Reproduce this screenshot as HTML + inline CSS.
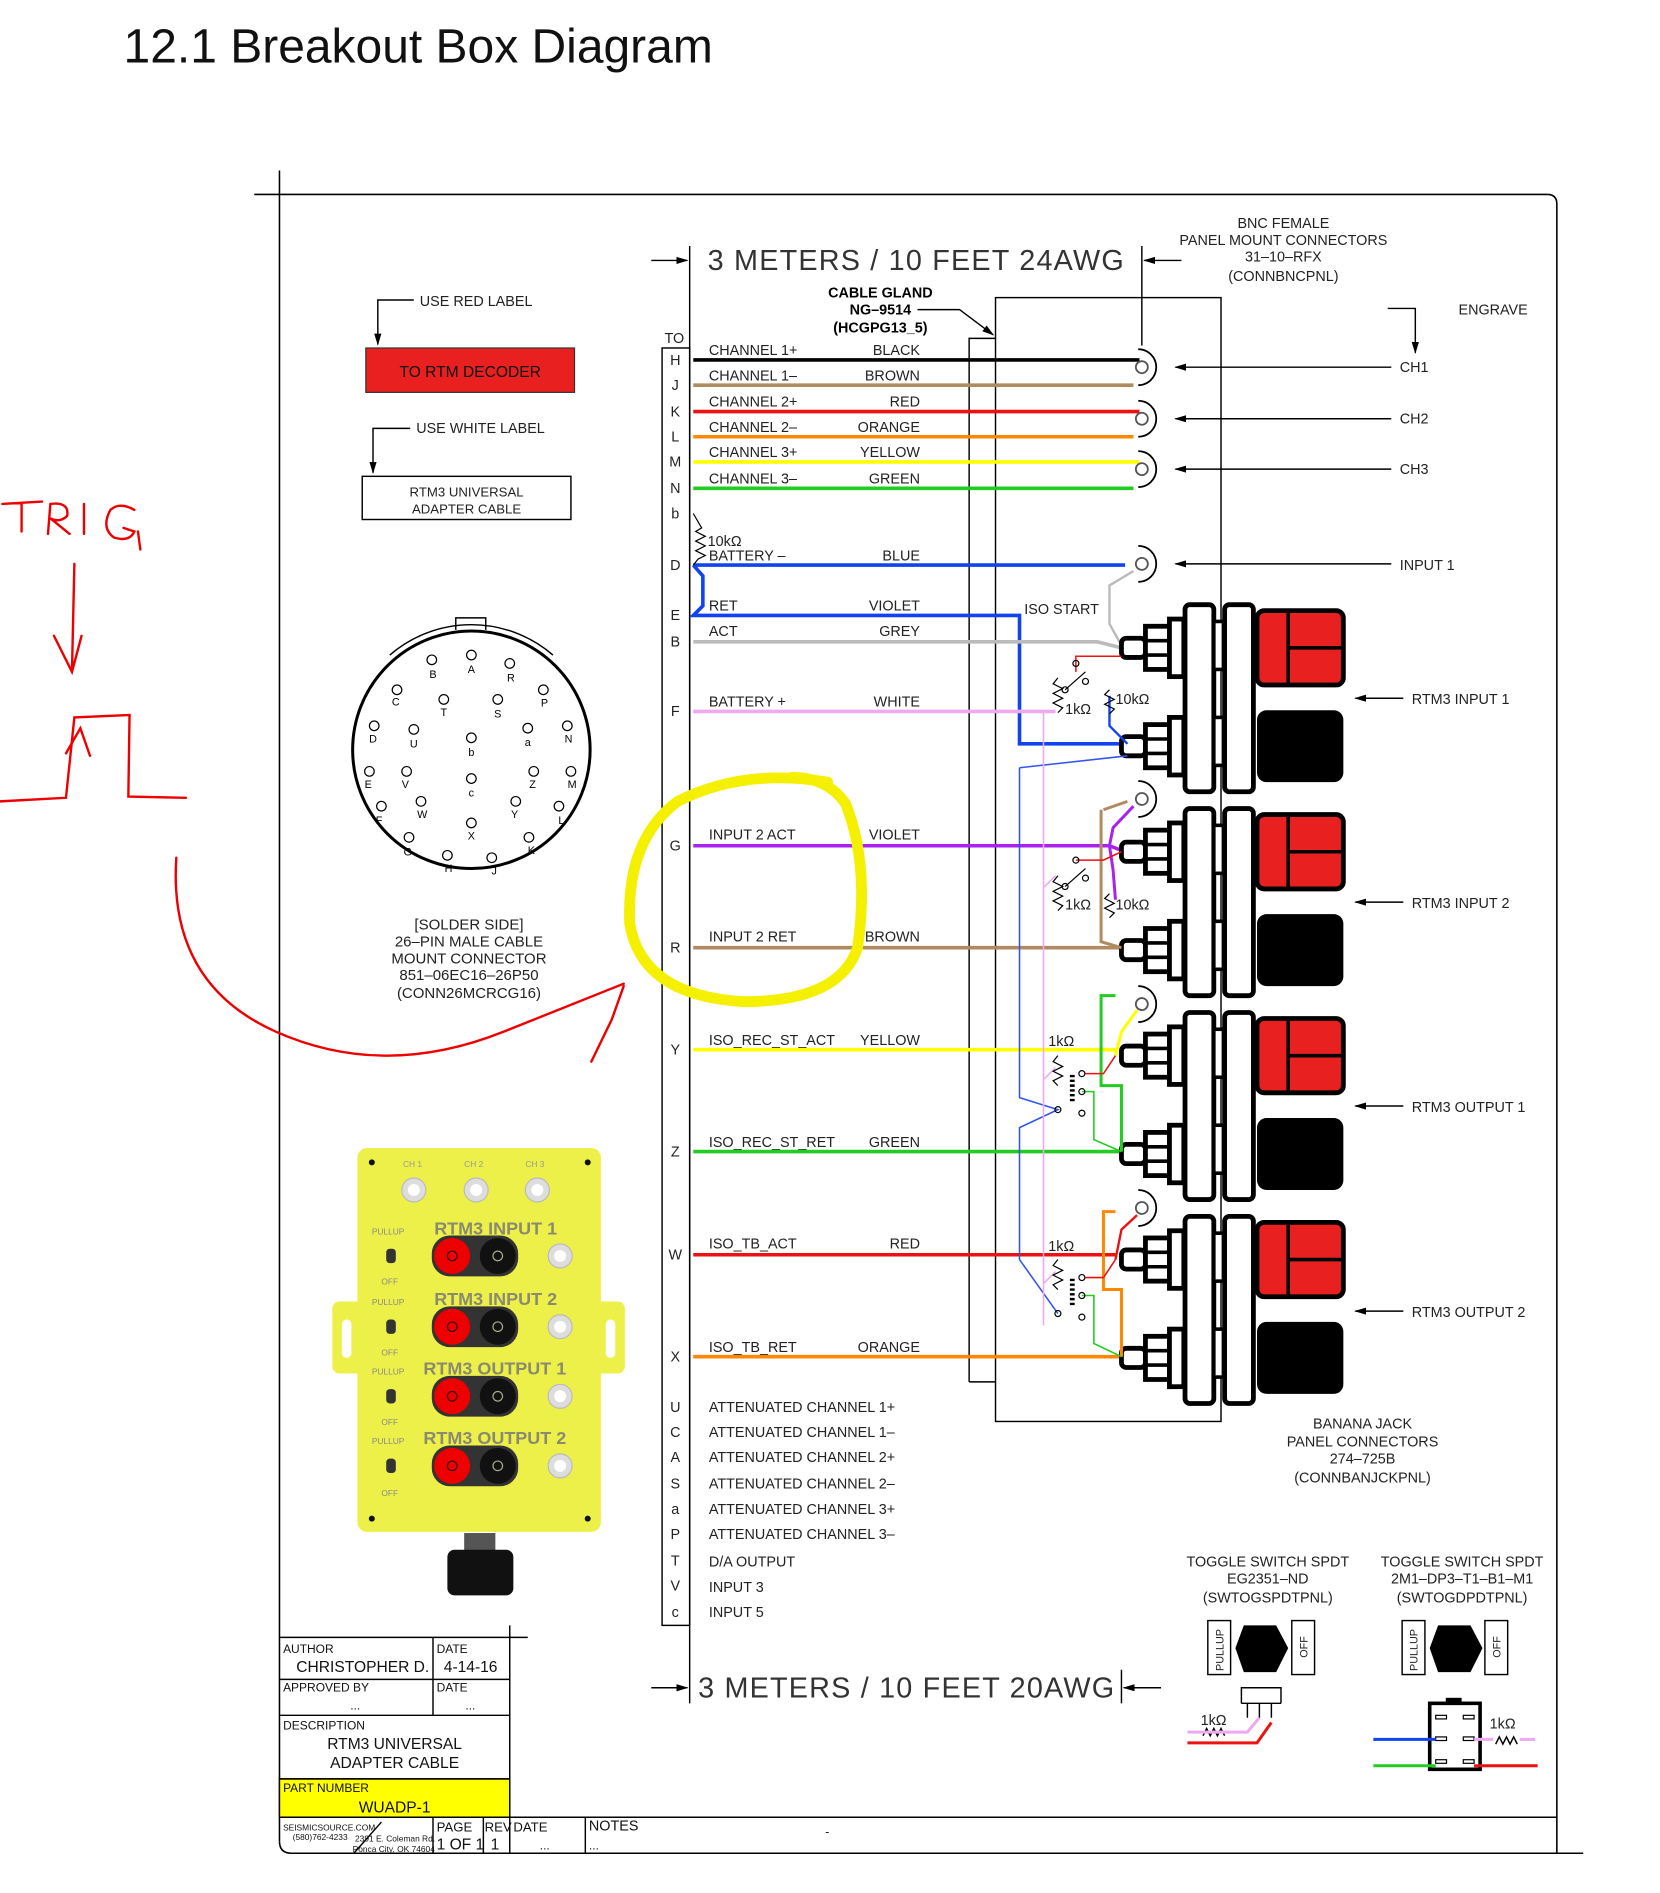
<!DOCTYPE html>
<html><head><meta charset="utf-8"><style>
html,body{margin:0;padding:0;background:#fff;}
svg{display:block;}
text{font-family:"Liberation Sans",sans-serif;}
</style></head><body>
<svg width="1660" height="1893" viewBox="0 0 1384 1578" xmlns="http://www.w3.org/2000/svg">
<defs>
<marker id="ah" markerWidth="10" markerHeight="8" refX="9" refY="4" orient="auto" markerUnits="userSpaceOnUse"><path d="M0,1 L10,4 L0,7 z" fill="#000"/></marker>
<g id="jack">
 <!-- top terminal -->
 <rect x="935" y="-50" width="20" height="16" rx="4" fill="#fff" stroke="#000" stroke-width="4"/>
 <rect x="955" y="-60" width="20" height="36" fill="#fff" stroke="#000" stroke-width="4"/>
 <line x1="955" y1="-48" x2="975" y2="-48" stroke="#000" stroke-width="3"/><line x1="955" y1="-36" x2="975" y2="-36" stroke="#000" stroke-width="3"/>
 <rect x="975" y="-66" width="12" height="48" fill="#fff" stroke="#000" stroke-width="4"/>
 <!-- bottom terminal -->
 <rect x="935" y="32" width="20" height="16" rx="4" fill="#fff" stroke="#000" stroke-width="4"/>
 <rect x="955" y="22" width="20" height="36" fill="#fff" stroke="#000" stroke-width="4"/>
 <line x1="955" y1="34" x2="975" y2="34" stroke="#000" stroke-width="3"/><line x1="955" y1="46" x2="975" y2="46" stroke="#000" stroke-width="3"/>
 <rect x="975" y="16" width="12" height="48" fill="#fff" stroke="#000" stroke-width="4"/>
 <!-- plates -->
 <rect x="988" y="-78" width="24" height="156" rx="4" fill="#fff" stroke="#000" stroke-width="4"/>
 <rect x="1012" y="-64" width="8" height="40" fill="#fff" stroke="#000" stroke-width="3"/>
 <rect x="1012" y="16" width="8" height="40" fill="#fff" stroke="#000" stroke-width="3"/>
 <rect x="1021" y="-78" width="24" height="156" rx="4" fill="#fff" stroke="#000" stroke-width="4"/>
 <!-- red cap -->
 <rect x="1048" y="-73" width="72" height="62" rx="6" fill="#e82020" stroke="#000" stroke-width="4"/>
 <line x1="1074" y1="-73" x2="1074" y2="-11" stroke="#000" stroke-width="3"/>
 <line x1="1074" y1="-42" x2="1120" y2="-42" stroke="#000" stroke-width="3"/>
 <!-- black cap -->
 <rect x="1048" y="10" width="72" height="60" rx="8" fill="#000"/>
</g>
<g id="bnc"><circle cx="0" cy="0" r="5" fill="#fff" stroke="#555" stroke-width="1.5"/><path d="M-3,-15 A15,15 0 1 1 -3,15" fill="none" stroke="#000" stroke-width="1.5"/></g>
</defs>

<text x="103" y="52" font-size="40" fill="#111">12.1 Breakout Box Diagram</text>

<!-- frame -->
<g stroke="#000" stroke-width="1.3" fill="none">
<line x1="212" y1="162" x2="1290" y2="162"/>
<path d="M1290,162 Q1298,162 1298,170 L1298,1545"/>
<line x1="233" y1="142" x2="233" y2="1535"/>
<path d="M233,1535 Q233,1545 243,1545 L1320,1545"/>
<line x1="425" y1="1515" x2="1298" y2="1515"/>
</g>

<!-- title block -->
<g stroke="#000" stroke-width="1.2" fill="none">
<rect x="233" y="1483" width="192" height="32" fill="#ffff00"/>
<line x1="233" y1="1365" x2="440" y2="1365"/>
<line x1="425" y1="1355" x2="425" y2="1545"/>
<line x1="233" y1="1400" x2="425" y2="1400"/>
<line x1="233" y1="1430" x2="425" y2="1430"/>
<line x1="233" y1="1483" x2="425" y2="1483"/>
<line x1="233" y1="1515" x2="425" y2="1515"/>
<line x1="361" y1="1365" x2="361" y2="1430"/>
<line x1="361" y1="1515" x2="361" y2="1545"/>
<line x1="403" y1="1515" x2="403" y2="1545"/>
<line x1="488" y1="1515" x2="488" y2="1545"/>
<line x1="318" y1="1519" x2="295" y2="1545"/>
</g>
<g font-size="10" fill="#111">
<text x="236" y="1378">AUTHOR</text><text x="364" y="1378">DATE</text>
<text x="247" y="1394" font-size="13">CHRISTOPHER D.</text><text x="370" y="1394" font-size="13">4-14-16</text>
<text x="236" y="1410">APPROVED BY</text><text x="364" y="1410">DATE</text>
<text x="292" y="1425">...</text><text x="388" y="1425">...</text>
<text x="236" y="1442">DESCRIPTION</text>
<text x="329" y="1458" font-size="13" text-anchor="middle">RTM3 UNIVERSAL</text>
<text x="329" y="1474" font-size="13" text-anchor="middle">ADAPTER CABLE</text>
<text x="236" y="1494">PART NUMBER</text>
<text x="329" y="1511" font-size="13" text-anchor="middle">WUADP-1</text>
<text x="236" y="1526" font-size="7">SEISMICSOURCE.COM</text>
<text x="244" y="1534" font-size="7">(580)762-4233</text>
<text x="296" y="1535" font-size="7">2391 E. Coleman Rd.</text>
<text x="294" y="1544" font-size="7">Ponca City, OK 74604</text>
<text x="364" y="1527" font-size="11">PAGE</text><text x="404" y="1527" font-size="11">REV</text><text x="428" y="1527" font-size="11">DATE</text><text x="491" y="1526" font-size="12">NOTES</text>
<text x="364" y="1542" font-size="13">1 OF 1</text><text x="409" y="1542" font-size="13">1</text><text x="450" y="1542">...</text><text x="491" y="1542">...</text>
<text x="688" y="1530">-</text>
</g>

<!-- left labels -->
<g font-size="12" fill="#222">
<text x="350" y="255">USE  RED  LABEL</text>
<text x="347" y="361">USE  WHITE  LABEL</text>
</g>
<g stroke="#000" stroke-width="1.2" fill="none">
<path d="M345,250 L315,250 L315,287" marker-end="url(#ah)"/>
<path d="M342,357 L311,357 L311,394" marker-end="url(#ah)"/>
</g>
<rect x="305" y="290" width="174" height="37" fill="#e82020" stroke="#333" stroke-width="1"/>
<text x="392" y="314" font-size="13" fill="#111" text-anchor="middle">TO  RTM  DECODER</text>
<rect x="302" y="397" width="174" height="36" fill="#fff" stroke="#000" stroke-width="1.2"/>
<text x="389" y="414" font-size="11" fill="#222" text-anchor="middle">RTM3 UNIVERSAL</text>
<text x="389" y="428" font-size="11" fill="#222" text-anchor="middle">ADAPTER CABLE</text>

<!-- circular connector -->
<g stroke="#000" fill="none">
<circle cx="393" cy="625" r="99" stroke-width="2.5"/>
<path d="M325,546 A104,104 0 0 1 461,546" stroke-width="1.2"/>
<path d="M380,525 L380,515 L405,515 L405,525" stroke-width="1.2"/>
</g>
<g font-size="9" fill="#000" text-anchor="middle">
<g fill="none" stroke="#000" stroke-width="1">
<circle cx="360" cy="550" r="4"/><circle cx="393" cy="546" r="4"/><circle cx="425" cy="553" r="4"/>
<circle cx="331" cy="575" r="4"/><circle cx="370" cy="583" r="4"/><circle cx="415" cy="583" r="4"/><circle cx="453" cy="575" r="4"/>
<circle cx="312" cy="605" r="4"/><circle cx="345" cy="608" r="4"/><circle cx="393" cy="615" r="4"/><circle cx="440" cy="607" r="4"/><circle cx="473" cy="605" r="4"/>
<circle cx="308" cy="643" r="4"/><circle cx="339" cy="643" r="4"/><circle cx="393" cy="649" r="4"/><circle cx="445" cy="643" r="4"/><circle cx="476" cy="643" r="4"/>
<circle cx="318" cy="672" r="4"/><circle cx="351" cy="668" r="4"/><circle cx="430" cy="668" r="4"/><circle cx="466" cy="672" r="4"/>
<circle cx="341" cy="698" r="4"/><circle cx="393" cy="686" r="4"/><circle cx="441" cy="698" r="4"/><circle cx="373" cy="713" r="4"/><circle cx="410" cy="715" r="4"/>
</g>
<text x="361" y="565">B</text><text x="393" y="561">A</text><text x="426" y="568">R</text>
<text x="330" y="588">C</text><text x="370" y="597">T</text><text x="415" y="598">S</text><text x="454" y="589">P</text>
<text x="311" y="619">D</text><text x="345" y="623">U</text><text x="393" y="630">b</text><text x="440" y="622">a</text><text x="474" y="619">N</text>
<text x="307" y="657">E</text><text x="338" y="657">V</text><text x="393" y="664">c</text><text x="444" y="657">Z</text><text x="477" y="657">M</text>
<text x="316" y="687">F</text><text x="352" y="682">W</text><text x="429" y="682">Y</text><text x="468" y="687">L</text>
<text x="340" y="713">G</text><text x="393" y="700">X</text><text x="443" y="712">K</text><text x="374" y="727">H</text><text x="412" y="729">J</text>
</g>
<g font-size="12.5" fill="#222" text-anchor="middle">
<text x="391" y="775">[SOLDER  SIDE]</text>
<text x="391" y="789">26–PIN  MALE  CABLE</text>
<text x="391" y="803">MOUNT  CONNECTOR</text>
<text x="391" y="817">851–06EC16–26P50</text>
<text x="391" y="832">(CONN26MCRCG16)</text>
</g>

<!-- yellow box photo -->
<rect x="277" y="1085" width="26" height="60" rx="6" fill="#eef04a"/>
<rect x="495" y="1085" width="26" height="60" rx="6" fill="#eef04a"/>
<rect x="285" y="1100" width="8" height="32" rx="4" fill="#fff"/>
<rect x="505" y="1100" width="8" height="32" rx="4" fill="#fff"/>
<rect x="298" y="957" width="203" height="320" rx="8" fill="#eef04a"/>
<rect x="387" y="1278" width="26" height="16" fill="#555"/>
<rect x="373" y="1292" width="55" height="38" rx="6" fill="#111"/>
<g fill="#111"><circle cx="310" cy="969" r="2.5"/><circle cx="490" cy="969" r="2.5"/><circle cx="310" cy="1266" r="2.5"/><circle cx="490" cy="1266" r="2.5"/></g>
<g font-size="7" fill="#999"><text x="336" y="973">CH 1</text><text x="387" y="973">CH 2</text><text x="438" y="973">CH 3</text></g>
<g fill="#ddd" stroke="#bbb"><circle cx="345" cy="992" r="10"/><circle cx="397" cy="992" r="10"/><circle cx="448" cy="992" r="10"/>
<circle cx="467" cy="1047" r="10"/><circle cx="467" cy="1106" r="10"/><circle cx="467" cy="1164" r="10"/><circle cx="467" cy="1222" r="10"/></g>
<g fill="#fff"><circle cx="345" cy="992" r="5"/><circle cx="397" cy="992" r="5"/><circle cx="448" cy="992" r="5"/><circle cx="467" cy="1047" r="5"/><circle cx="467" cy="1106" r="5"/><circle cx="467" cy="1164" r="5"/><circle cx="467" cy="1222" r="5"/></g>
<g font-size="15" font-weight="bold" fill="#8a8a70">
<text x="362" y="1029">RTM3 INPUT 1</text><text x="362" y="1088">RTM3 INPUT 2</text>
<text x="353" y="1146">RTM3 OUTPUT 1</text><text x="353" y="1204">RTM3 OUTPUT 2</text>
</g>
<g font-size="7" fill="#888">
<text x="310" y="1029">PULLUP</text><text x="318" y="1071">OFF</text>
<text x="310" y="1088">PULLUP</text><text x="318" y="1130">OFF</text>
<text x="310" y="1146">PULLUP</text><text x="318" y="1188">OFF</text>
<text x="310" y="1204">PULLUP</text><text x="318" y="1247">OFF</text>
</g>
<g>
<g transform="translate(0,1047)"><rect x="360" y="-17" width="72" height="34" rx="15" fill="#333"/><circle cx="377" cy="0" r="15" fill="#e00"/><circle cx="415" cy="0" r="15" fill="#111"/><circle cx="377" cy="0" r="4" fill="none" stroke="#300"/><circle cx="415" cy="0" r="4" fill="none" stroke="#aa8"/><rect x="322" y="-6" width="8" height="12" rx="3" fill="#333"/></g>
<g transform="translate(0,1106)"><rect x="360" y="-17" width="72" height="34" rx="15" fill="#333"/><circle cx="377" cy="0" r="15" fill="#e00"/><circle cx="415" cy="0" r="15" fill="#111"/><circle cx="377" cy="0" r="4" fill="none" stroke="#300"/><circle cx="415" cy="0" r="4" fill="none" stroke="#aa8"/><rect x="322" y="-6" width="8" height="12" rx="3" fill="#333"/></g>
<g transform="translate(0,1164)"><rect x="360" y="-17" width="72" height="34" rx="15" fill="#333"/><circle cx="377" cy="0" r="15" fill="#e00"/><circle cx="415" cy="0" r="15" fill="#111"/><circle cx="377" cy="0" r="4" fill="none" stroke="#300"/><circle cx="415" cy="0" r="4" fill="none" stroke="#aa8"/><rect x="322" y="-6" width="8" height="12" rx="3" fill="#333"/></g>
<g transform="translate(0,1222)"><rect x="360" y="-17" width="72" height="34" rx="15" fill="#333"/><circle cx="377" cy="0" r="15" fill="#e00"/><circle cx="415" cy="0" r="15" fill="#111"/><circle cx="377" cy="0" r="4" fill="none" stroke="#300"/><circle cx="415" cy="0" r="4" fill="none" stroke="#aa8"/><rect x="322" y="-6" width="8" height="12" rx="3" fill="#333"/></g>
</g>

<!-- dimension lines -->
<g stroke="#000" stroke-width="1.2" fill="none">
<line x1="575" y1="205" x2="575" y2="1420"/>
<line x1="543" y1="217" x2="573" y2="217" marker-end="url(#ah)"/>
<line x1="985" y1="217" x2="954" y2="217" marker-end="url(#ah)"/>
<line x1="952" y1="205" x2="952" y2="288"/>
<line x1="543" y1="1407" x2="573" y2="1407" marker-end="url(#ah)"/>
<line x1="968" y1="1407" x2="937" y2="1407" marker-end="url(#ah)"/>
<line x1="935" y1="1392" x2="935" y2="1420"/>
<rect x="552" y="290" width="23" height="1065"/>
<!-- gland -->
<path d="M808,1152 L808,282 L830,282"/>
<path d="M808,1152 L830,1152"/>
<rect x="830" y="248" width="188" height="937"/>
<path d="M765,258 L800,258 L828,279" marker-end="url(#ah)"/>
<path d="M1157,257 L1180,257 L1180,294" marker-end="url(#ah)"/>
</g>
<text x="590" y="225" font-size="24" fill="#333" letter-spacing="1">3  METERS  /  10  FEET  24AWG</text>
<text x="582" y="1415" font-size="24" fill="#333" letter-spacing="1">3  METERS  /  10  FEET  20AWG</text>
<g font-size="12" font-weight="bold" fill="#000" text-anchor="middle">
<text x="734" y="248">CABLE GLAND</text><text x="734" y="262">NG–9514</text><text x="734" y="277">(HCGPG13_5)</text>
</g>
<g font-size="12" fill="#222" text-anchor="middle">
<text x="1070" y="190">BNC FEMALE</text><text x="1070" y="204">PANEL MOUNT CONNECTORS</text><text x="1070" y="218">31–10–RFX</text><text x="1070" y="234">(CONNBNCPNL)</text>
<text x="1136" y="1191">BANANA JACK</text><text x="1136" y="1206">PANEL CONNECTORS</text><text x="1136" y="1220">274–725B</text><text x="1136" y="1236">(CONNBANJCKPNL)</text>
<text x="1057" y="1306">TOGGLE SWITCH SPDT</text><text x="1057" y="1320">EG2351–ND</text><text x="1057" y="1336">(SWTOGSPDTPNL)</text>
<text x="1219" y="1306">TOGGLE SWITCH SPDT</text><text x="1219" y="1320">2M1–DP3–T1–B1–M1</text><text x="1219" y="1336">(SWTOGDPDTPNL)</text>
</g>
<text x="1216" y="262" font-size="12" fill="#222">ENGRAVE</text>
<text x="554" y="286" font-size="12" fill="#222">TO</text>

<!-- pin letters -->
<g font-size="12" fill="#222" text-anchor="middle">
<text x="563" y="304">H</text><text x="563" y="325">J</text><text x="563" y="347">K</text><text x="563" y="368">L</text><text x="563" y="389">M</text><text x="563" y="411">N</text><text x="563" y="432">b</text><text x="563" y="475">D</text><text x="563" y="517">E</text><text x="563" y="539">B</text><text x="563" y="597">F</text><text x="563" y="709">G</text><text x="563" y="794">R</text><text x="563" y="879">Y</text><text x="563" y="964">Z</text><text x="563" y="1050">W</text><text x="563" y="1135">X</text>
<text x="563" y="1177">U</text><text x="563" y="1198">C</text><text x="563" y="1219">A</text><text x="563" y="1241">S</text><text x="563" y="1262">a</text><text x="563" y="1283">P</text><text x="563" y="1305">T</text><text x="563" y="1326">V</text><text x="563" y="1348">c</text>
</g>
<!-- wire labels -->
<g font-size="12" fill="#222">
<text x="591" y="296">CHANNEL  1+</text><text x="591" y="317">CHANNEL  1–</text><text x="591" y="339">CHANNEL  2+</text><text x="591" y="360">CHANNEL  2–</text><text x="591" y="381">CHANNEL  3+</text><text x="591" y="403">CHANNEL  3–</text>
<text x="591" y="467">BATTERY  –</text><text x="591" y="509">RET</text><text x="591" y="530">ACT</text><text x="591" y="589">BATTERY  +</text>
<text x="591" y="700">INPUT  2  ACT</text><text x="591" y="785">INPUT  2  RET</text><text x="591" y="871">ISO_REC_ST_ACT</text><text x="591" y="956">ISO_REC_ST_RET</text><text x="591" y="1041">ISO_TB_ACT</text><text x="591" y="1127">ISO_TB_RET</text>
<text x="591" y="1177">ATTENUATED  CHANNEL  1+</text><text x="591" y="1198">ATTENUATED  CHANNEL  1–</text><text x="591" y="1219">ATTENUATED  CHANNEL  2+</text><text x="591" y="1241">ATTENUATED  CHANNEL  2–</text><text x="591" y="1262">ATTENUATED  CHANNEL  3+</text><text x="591" y="1283">ATTENUATED  CHANNEL  3–</text>
<text x="591" y="1306">D/A  OUTPUT</text><text x="591" y="1327">INPUT  3</text><text x="591" y="1348">INPUT  5</text>
<text x="854" y="512">ISO  START</text>
</g>
<g font-size="12" fill="#222" text-anchor="end">
<text x="767" y="296">BLACK</text><text x="767" y="317">BROWN</text><text x="767" y="339">RED</text><text x="767" y="360">ORANGE</text><text x="767" y="381">YELLOW</text><text x="767" y="403">GREEN</text>
<text x="767" y="467">BLUE</text><text x="767" y="509">VIOLET</text><text x="767" y="530">GREY</text><text x="767" y="589">WHITE</text>
<text x="767" y="700">VIOLET</text><text x="767" y="785">BROWN</text><text x="767" y="871">YELLOW</text><text x="767" y="956">GREEN</text><text x="767" y="1041">RED</text><text x="767" y="1127">ORANGE</text>
</g>

<!-- wires -->
<g fill="none" stroke-width="3">
<line x1="578" y1="300" x2="950" y2="300" stroke="#000"/>
<line x1="578" y1="321" x2="945" y2="321" stroke="#b08a60"/>
<line x1="578" y1="343" x2="950" y2="343" stroke="#ee1111"/>
<line x1="578" y1="364" x2="945" y2="364" stroke="#ff8800"/>
<line x1="578" y1="385" x2="950" y2="385" stroke="#ffff00"/>
<line x1="578" y1="407" x2="945" y2="407" stroke="#22cc22"/>
<line x1="578" y1="471" x2="938" y2="471" stroke="#1144ee"/>
<path d="M578,471 L586,480 L586,505 L578,513 L850,513 L850,620 L935,620 L940,622" stroke="#1144ee"/>
<path d="M578,535 L915,535 L935,540" stroke="#bbbbbb"/>
<path d="M935,538 L925,520 L925,488 L945,476" stroke="#bbbbbb" stroke-width="2"/>
<line x1="578" y1="593" x2="880" y2="593" stroke="#f0a8f0"/>
<path d="M578,705 L925,705 L938,710" stroke="#aa22ee"/>
<path d="M578,790 L935,790" stroke="#b08a60"/>
<path d="M578,875 L930,875" stroke="#ffff00"/>
<path d="M578,960 L935,960" stroke="#22cc22"/>
<path d="M578,1046 L930,1046" stroke="#ee1111"/>
<path d="M578,1131 L935,1131" stroke="#ff8800"/>
</g>
<!-- resistor b-D -->
<path d="M578,428 L585,440 L580,443 L588,447 L580,451 L588,455 L580,459 L588,463 L582,466 L578,471" fill="none" stroke="#000" stroke-width="1"/>
<text x="590" y="455" font-size="12" fill="#222">10kΩ</text>

<!-- BNC connectors -->
<use href="#bnc" x="952" y="306"/><use href="#bnc" x="952" y="349"/><use href="#bnc" x="952" y="391"/><use href="#bnc" x="952" y="470"/>
<use href="#bnc" x="952" y="666"/><use href="#bnc" x="952" y="837"/><use href="#bnc" x="952" y="1007"/>

<!-- banana jacks -->
<use href="#jack" x="0" y="582"/><use href="#jack" x="0" y="752"/><use href="#jack" x="0" y="922"/><use href="#jack" x="0" y="1092"/>

<!-- switch circuitry (simplified) -->
<g fill="none" stroke-width="1.3">
<path d="M850,640 L940,630" stroke="#3355ee"/>
<path d="M850,640 L850,915 L882,925 L850,940 L850,1050 L882,1095" stroke="#3355ee"/>
<path d="M870,593 L870,1105 M870,740 L880,730 M870,900 L880,890 M870,1070 L880,1060" stroke="#f0a8f0"/>
<path d="M897,560 L897,547 L935,547" stroke="#ee1111"/>
<path d="M925,580 L925,605 L940,620" stroke="#1144ee" stroke-width="2"/>
<path d="M920,675 L940,668 M918,675 L918,785 L935,790" stroke="#b08a60" stroke-width="2.5"/>
<path d="M925,705 L928,690 L945,672 M925,705 L928,725 L930,750" stroke="#aa22ee" stroke-width="2.5"/>
<path d="M897,717 L920,717 L935,710" stroke="#ee1111"/>
<path d="M930,830 L918,830 L918,905 L935,905 L935,960" stroke="#22cc22" stroke-width="2.5"/>
<path d="M930,880 L935,860 L948,842" stroke="#ffff00" stroke-width="2.5"/>
<path d="M905,895 L920,895 L930,880" stroke="#ee1111"/>
<path d="M902,910 L912,910 L912,950 L935,960" stroke="#22cc22"/>
<path d="M930,1010 L920,1010 L920,1075 L935,1075 L935,1131" stroke="#ff8800" stroke-width="2.5"/>
<path d="M930,1050 L935,1025 L948,1013" stroke="#ee1111" stroke-width="2"/>
<path d="M905,1065 L920,1065 L930,1050" stroke="#ee1111"/>
<path d="M902,1080 L912,1080 L912,1120 L935,1131" stroke="#22cc22"/>
</g>
<g fill="none" stroke="#000" stroke-width="1">
<path d="M882,565 L878,570 L886,574 L878,578 L886,582 L878,586 L886,590 L882,594"/>
<path d="M925,575 L921,579 L929,583 L921,587 L929,591 L925,595"/>
<circle cx="897" cy="553" r="2.5"/><circle cx="905" cy="568" r="2.5"/><circle cx="888" cy="575" r="2.5"/><line x1="888" y1="575" x2="905" y2="560"/>
<path d="M882,730 L878,735 L886,739 L878,743 L886,747 L878,751 L886,755 L882,759"/>
<path d="M925,745 L921,749 L929,753 L921,757 L929,761 L925,765"/>
<circle cx="897" cy="717" r="2.5"/><circle cx="905" cy="732" r="2.5"/><circle cx="888" cy="739" r="2.5"/><line x1="888" y1="739" x2="905" y2="724"/>
<path d="M882,880 L878,885 L886,889 L878,893 L886,897 L878,901 L882,905"/>
<circle cx="902" cy="895" r="2.5"/><circle cx="902" cy="910" r="2.5"/><circle cx="902" cy="928" r="2.5"/><circle cx="882" cy="925" r="2.5"/>
<line x1="894" y1="896" x2="894" y2="920" stroke-width="4" stroke-dasharray="2,2"/>
<path d="M882,1050 L878,1055 L886,1059 L878,1063 L886,1067 L878,1071 L882,1075"/>
<circle cx="902" cy="1065" r="2.5"/><circle cx="902" cy="1080" r="2.5"/><circle cx="902" cy="1098" r="2.5"/><circle cx="882" cy="1095" r="2.5"/>
<line x1="894" y1="1066" x2="894" y2="1090" stroke-width="4" stroke-dasharray="2,2"/>
</g>
<g font-size="12" fill="#222">
<text x="888" y="595">1kΩ</text><text x="930" y="587">10kΩ</text>
<text x="888" y="758">1kΩ</text><text x="930" y="758">10kΩ</text>
<text x="874" y="872">1kΩ</text><text x="874" y="1043">1kΩ</text>
</g>

<!-- right arrows & labels -->
<g stroke="#000" stroke-width="1.2" fill="none">
<line x1="1160" y1="306" x2="980" y2="306" marker-end="url(#ah)"/>
<line x1="1160" y1="349" x2="980" y2="349" marker-end="url(#ah)"/>
<line x1="1160" y1="391" x2="980" y2="391" marker-end="url(#ah)"/>
<line x1="1160" y1="470" x2="980" y2="470" marker-end="url(#ah)"/>
<line x1="1170" y1="582" x2="1130" y2="582" marker-end="url(#ah)"/>
<line x1="1170" y1="752" x2="1130" y2="752" marker-end="url(#ah)"/>
<line x1="1170" y1="922" x2="1130" y2="922" marker-end="url(#ah)"/>
<line x1="1170" y1="1093" x2="1130" y2="1093" marker-end="url(#ah)"/>
</g>
<g font-size="12" fill="#222">
<text x="1167" y="310">CH1</text><text x="1167" y="353">CH2</text><text x="1167" y="395">CH3</text><text x="1167" y="475">INPUT  1</text>
<text x="1177" y="587">RTM3  INPUT  1</text><text x="1177" y="757">RTM3  INPUT  2</text><text x="1177" y="927">RTM3  OUTPUT  1</text><text x="1177" y="1098">RTM3  OUTPUT  2</text>
</g>

<!-- toggle switch drawings -->
<g stroke="#000" stroke-width="1.2" fill="#fff">
<rect x="1007" y="1351" width="19" height="45"/><rect x="1077" y="1351" width="19" height="45"/>
<rect x="1169" y="1351" width="19" height="45"/><rect x="1238" y="1351" width="19" height="45"/>
</g>
<polygon points="1037,1355 1064,1355 1074,1374 1064,1394 1037,1394 1030,1374" fill="#000"/>
<polygon points="1199,1355 1226,1355 1236,1374 1226,1394 1199,1394 1192,1374" fill="#000"/>
<g font-size="9" fill="#222">
<text transform="translate(1020,1393) rotate(-90)">PULLUP</text><text transform="translate(1090,1382) rotate(-90)">OFF</text>
<text transform="translate(1182,1393) rotate(-90)">PULLUP</text><text transform="translate(1251,1382) rotate(-90)">OFF</text>
</g>
<g fill="none" stroke="#000" stroke-width="1.2">
<path d="M1035,1420 L1035,1407 L1068,1407 L1068,1420 M1035,1420 L1068,1420"/>
<path d="M1040,1420 L1040,1432 M1050,1420 L1050,1432 M1060,1420 L1060,1432"/>
<rect x="1192" y="1420" width="42" height="55" stroke-width="3"/>
<rect x="1206" y="1416" width="12" height="4" fill="#000"/>
<g stroke-width="1"><rect x="1197" y="1430" width="9" height="3"/><rect x="1220" y="1430" width="9" height="3"/><rect x="1197" y="1448" width="9" height="3"/><rect x="1220" y="1448" width="9" height="3"/><rect x="1197" y="1467" width="9" height="3"/><rect x="1220" y="1467" width="9" height="3"/></g>
<path d="M1003,1447 L1006,1441 L1009,1447 L1012,1441 L1015,1447 L1018,1441 L1021,1447"/>
<path d="M1247,1454 L1250,1448 L1253,1454 L1256,1448 L1259,1454 L1262,1448 L1265,1454"/>
</g>
<g fill="none" stroke-width="2.5">
<path d="M990,1444 L1040,1444 L1050,1432" stroke="#f0a8f0"/>
<path d="M990,1453 L1048,1453 L1060,1436" stroke="#ee1111"/>
<path d="M1145,1450 L1197,1450" stroke="#1144ee"/>
<path d="M1229,1450 L1245,1450 M1267,1450 L1280,1450" stroke="#f0a8f0"/>
<path d="M1145,1472 L1197,1472" stroke="#22cc22"/>
<path d="M1229,1472 L1282,1472" stroke="#ee1111"/>
</g>
<g font-size="12" fill="#222"><text x="1001" y="1438">1kΩ</text><text x="1242" y="1441">1kΩ</text></g>

<!-- hand annotations -->
<g fill="none" stroke="#e00" stroke-width="2" stroke-linecap="round">
<path d="M2,420 L35,418 M18,420 L18,443 M40,445 L42,420 Q58,418 56,430 Q50,436 42,432 L58,445 M70,420 L70,445 M112,425 Q100,418 92,425 Q84,440 95,448 Q108,452 112,443 L103,440 M115,443 L117,458"/>
<path d="M62,470 L60,560 M45,530 L60,560 L68,530"/>
<path d="M0,668 L55,665 L62,598 L108,596 L107,664 L155,665"/>
<path d="M55,628 L67,607 L75,630"/>
<path d="M147,715 Q140,820 230,860 Q320,900 420,860 L520,820 M520,822 L510,850 L493,885"/>
</g>
<path d="M690,652 Q620,640 565,668 Q522,700 525,770 Q535,830 620,835 Q700,835 715,790 Q725,720 705,670 Q690,648 660,648" fill="none" stroke="#f5f000" stroke-width="9" stroke-linecap="round"/>
</svg>
</body></html>
